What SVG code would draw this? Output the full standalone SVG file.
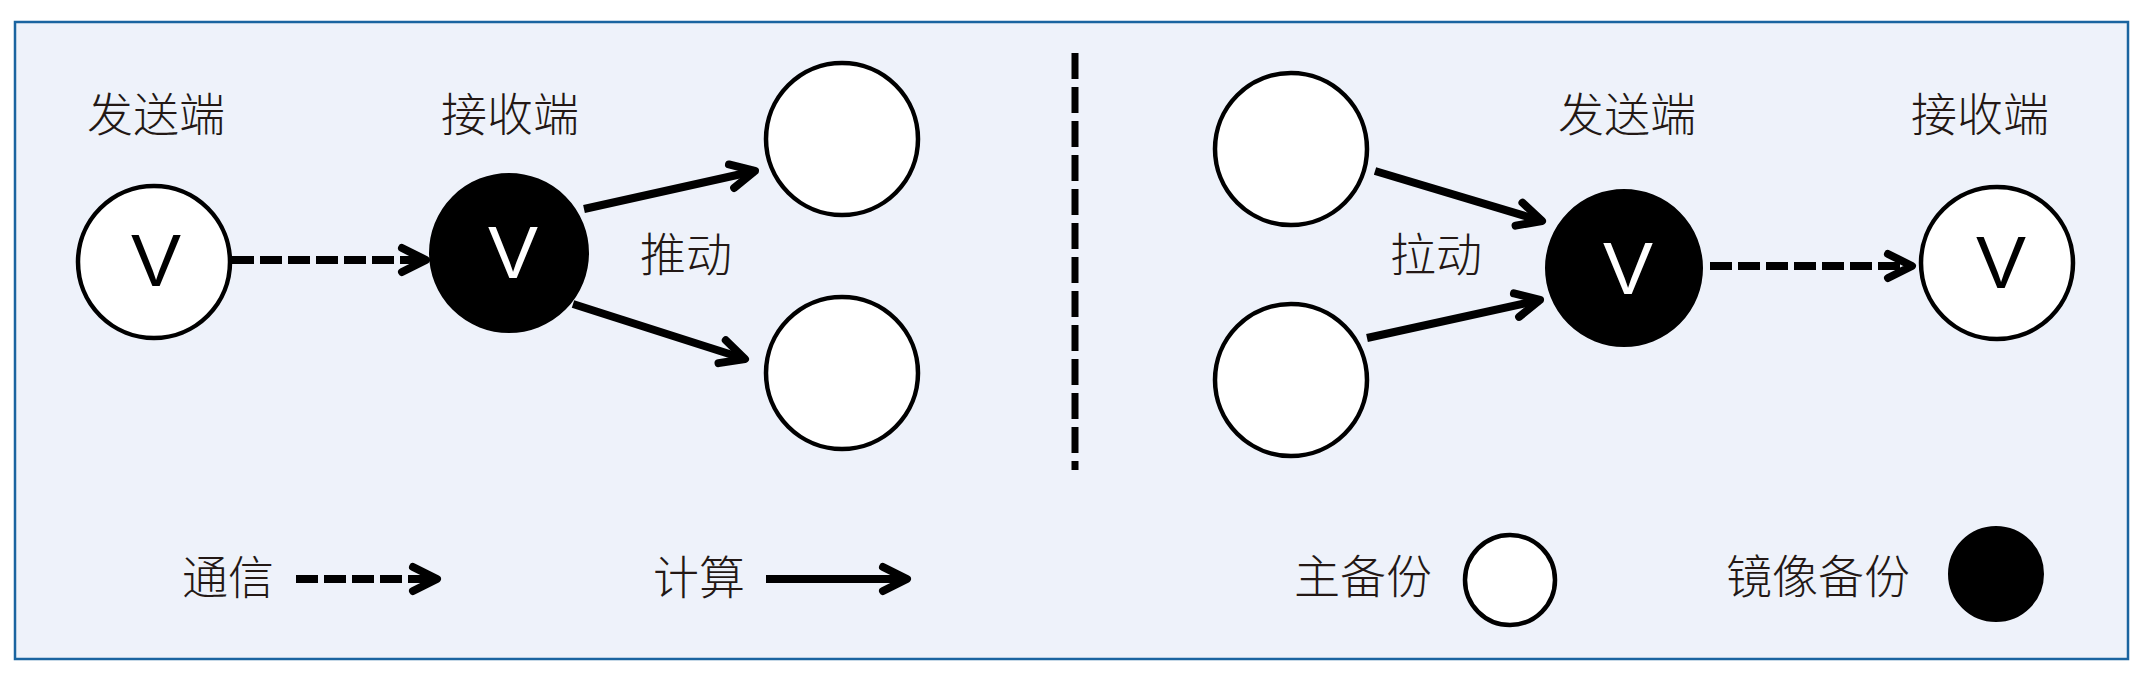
<svg xmlns="http://www.w3.org/2000/svg" width="2144" height="684" viewBox="0 0 2144 684">
<style>
.lbl{font-family:"Noto Sans CJK SC","Noto Sans",sans-serif;font-weight:200;font-size:46px;fill:#231815;text-anchor:middle}
.v{font-family:"Liberation Sans",Arial,sans-serif;font-size:75px;text-anchor:middle}
.wn{fill:#ffffff;stroke:#000000;stroke-width:4.5}
.bn{fill:#000000;stroke:#000000;stroke-width:2}
.conn{fill:none;stroke:#000000;stroke-width:8}
.dash{stroke-dasharray:22 6}
</style>
<defs>
<marker id="arr" markerUnits="userSpaceOnUse" viewBox="-30 -20 36 40" refX="0" refY="0" markerWidth="36" markerHeight="40" orient="auto">
<path d="M-24,-12 L0,0 L-24,12" fill="none" stroke="#000000" stroke-width="8" stroke-linecap="round" stroke-linejoin="round"/>
</marker>
</defs>
<rect x="0" y="0" width="2144" height="684" fill="#ffffff"/>
<rect id="frame" x="15" y="22" width="2113" height="637" fill="#eef2fa" stroke="#1a64a0" stroke-width="2.5"/>
<g id="connectors">
<line class="conn dash" x1="232" y1="260" x2="426" y2="260" marker-end="url(#arr)"/>
<line class="conn" x1="584" y1="209" x2="755" y2="171" marker-end="url(#arr)"/>
<line class="conn" x1="573" y1="304" x2="745" y2="359" marker-end="url(#arr)"/>
<line class="conn" x1="1375" y1="171" x2="1542" y2="221" marker-end="url(#arr)"/>
<line class="conn" x1="1367" y1="338" x2="1540" y2="300" marker-end="url(#arr)"/>
<line class="conn dash" x1="1710" y1="266" x2="1912" y2="266" marker-end="url(#arr)"/>
</g>
<g id="divider">
<line x1="1075" y1="53" x2="1075" y2="470" stroke="#000000" stroke-width="7" stroke-dasharray="26 8"/>
</g>
<g id="left-sender">
<text class="lbl" x="156" y="131">发送端</text>
<circle class="wn" cx="154" cy="262" r="76"/>
<text class="v" x="156" y="286" fill="#000000">V</text>
</g>
<g id="left-receiver">
<text class="lbl" x="510" y="131">接收端</text>
<circle class="bn" cx="509" cy="253" r="79"/>
<text class="v" x="513" y="278" fill="#ffffff">V</text>
</g>
<g id="push-top"><circle class="wn" cx="842" cy="139" r="76"/></g>
<g id="push-bottom"><circle class="wn" cx="842" cy="373" r="76"/></g>
<g id="push-label"><text class="lbl" x="686" y="271">推动</text></g>
<g id="pull-top"><circle class="wn" cx="1291" cy="149" r="76"/></g>
<g id="pull-bottom"><circle class="wn" cx="1291" cy="380" r="76"/></g>
<g id="pull-label"><text class="lbl" x="1436" y="271">拉动</text></g>
<g id="right-sender">
<text class="lbl" x="1627" y="131">发送端</text>
<circle class="bn" cx="1624" cy="268" r="78"/>
<text class="v" x="1628" y="294" fill="#ffffff">V</text>
</g>
<g id="right-receiver">
<text class="lbl" x="1980" y="131">接收端</text>
<circle class="wn" cx="1997" cy="263" r="76"/>
<text class="v" x="2001" y="288" fill="#000000">V</text>
</g>
<g id="legend-comm">
<text class="lbl" x="228" y="594">通信</text>
<line class="conn dash" x1="296" y1="579" x2="437" y2="579" marker-end="url(#arr)"/>
</g>
<g id="legend-compute">
<text class="lbl" x="699" y="594">计算</text>
<line class="conn" x1="766" y1="579" x2="907" y2="579" marker-end="url(#arr)"/>
</g>
<g id="legend-primary">
<text class="lbl" x="1363" y="593">主备份</text>
<circle class="wn" cx="1510" cy="580" r="45"/>
</g>
<g id="legend-mirror">
<text class="lbl" x="1818" y="593">镜像备份</text>
<circle class="bn" cx="1996" cy="574" r="47"/>
</g>
</svg>
